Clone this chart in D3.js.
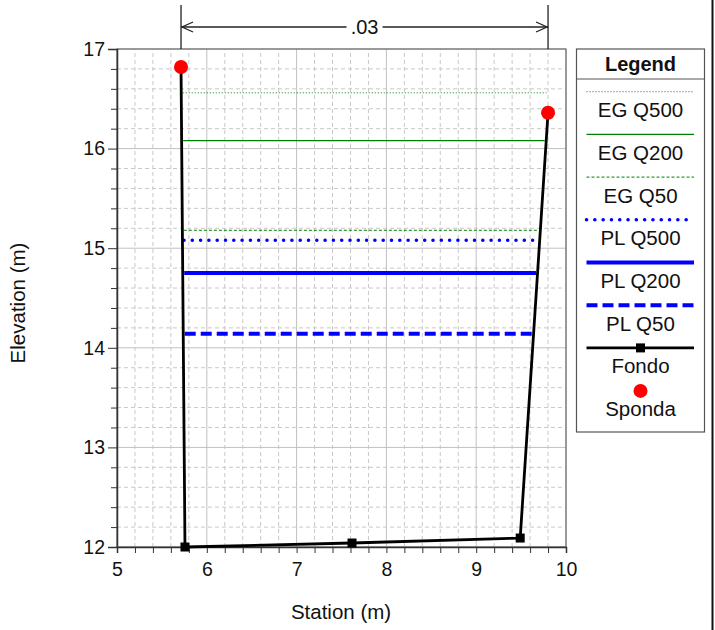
<!DOCTYPE html>
<html>
<head>
<meta charset="utf-8">
<script src="https://cdn.jsdelivr.net/npm/d3@7"></script>
<style>
  html, body { margin: 0; padding: 0; background: #fff; }
  svg { display: block; font-family: "Liberation Sans", Arial, sans-serif; }
</style>
</head>
<body>
<svg id="chart" width="715" height="630"></svg>
<script>
// ---------------- data ----------------
const fondoStation = [5.713, 5.757, 7.617, 9.49, 9.80];
const fondoElev    = [16.82, 12.00, 12.04, 12.09, 16.36];
const spondaStation = [5.713, 9.80];
const spondaElev    = [16.82, 16.36];
const wsNames = ["EG Q500", "EG Q200", "EG Q50", "PL Q500", "PL Q200", "PL Q50"];
const wsElev  = [16.56, 16.08, 15.18, 15.08, 14.75, 14.14];
const xTicks = [5, 6, 7, 8, 9, 10];
const yTicks = [12, 13, 14, 15, 16, 17];
const nValue = ".03";

// ---------------- styles ----------------
const wsStyle = {
  "EG Q500": {color: "#008000", width: 1,   dash: "1,2",   cap: "butt"},
  "EG Q200": {color: "#008000", width: 1.3, dash: null,    cap: "butt"},
  "EG Q50":  {color: "#008000", width: 1,   dash: "3,2",   cap: "butt"},
  "PL Q500": {color: "#0000ff", width: 3.5, dash: "0.1,8.2", cap: "round"},
  "PL Q200": {color: "#0000ff", width: 4,   dash: null,    cap: "butt"},
  "PL Q50":  {color: "#0000ff", width: 4,   dash: "11,5",  cap: "butt"}
};

const svg = d3.select("#chart");
const x = d3.scaleLinear().domain([5, 10]).range([117, 566]);
const y = d3.scaleLinear().domain([12, 17]).range([547, 49]);

// ---------------- grid ----------------
const grid = svg.append("g");
const minorX = d3.range(5, 10.001, 0.2).filter(v => Math.abs(v - Math.round(v)) > 1e-6);
const minorY = d3.range(12, 17.001, 0.2).filter(v => Math.abs(v - Math.round(v)) > 1e-6);
grid.selectAll(".mx").data(minorX).join("line")
  .attr("x1", d => x(d)).attr("x2", d => x(d)).attr("y1", y(12)).attr("y2", y(17))
  .attr("stroke", "#c8c8c8").attr("stroke-dasharray", "4,3").attr("stroke-width", 1);
grid.selectAll(".my").data(minorY).join("line")
  .attr("y1", d => y(d)).attr("y2", d => y(d)).attr("x1", x(5)).attr("x2", x(10))
  .attr("stroke", "#c8c8c8").attr("stroke-dasharray", "4,3").attr("stroke-width", 1);
grid.selectAll(".Mx").data(xTicks).join("line")
  .attr("x1", d => x(d)).attr("x2", d => x(d)).attr("y1", y(12)).attr("y2", y(17))
  .attr("stroke", "#c0c0c0").attr("stroke-width", 1);
grid.selectAll(".My").data(yTicks).join("line")
  .attr("y1", d => y(d)).attr("y2", d => y(d)).attr("x1", x(5)).attr("x2", x(10))
  .attr("stroke", "#c0c0c0").attr("stroke-width", 1);

// frame
svg.append("rect").attr("x", x(5)).attr("y", y(17))
  .attr("width", x(10) - x(5)).attr("height", y(12) - y(17))
  .attr("fill", "none").attr("stroke", "#555").attr("stroke-width", 1);

// ---------------- axes ----------------
const fontSize = 19.5;
const xAxisMinor = d3.axisBottom(x).tickValues(minorX).tickSize(6).tickFormat("");
svg.append("g").attr("transform", `translate(0,${y(12)})`).call(xAxisMinor)
  .call(g => g.select(".domain").remove())
  .call(g => g.selectAll("line").attr("stroke", "#333"));
const xAxis = d3.axisBottom(x).tickValues(xTicks).tickSize(6).tickPadding(9).tickFormat(d3.format("d"));
svg.append("g").attr("transform", `translate(0,${y(12)})`).call(xAxis)
  .call(g => g.select(".domain").attr("stroke", "#333").attr("stroke-width", 1.5))
  .call(g => g.selectAll("line").attr("stroke", "#333"))
  .call(g => g.selectAll("text").attr("font-size", fontSize).attr("font-family", "Liberation Sans, Arial").attr("fill", "#111"));

const yAxisMinor = d3.axisLeft(y).tickValues(minorY).tickSize(6).tickFormat("");
svg.append("g").attr("transform", `translate(${x(5)},0)`).call(yAxisMinor)
  .call(g => g.select(".domain").remove())
  .call(g => g.selectAll("line").attr("stroke", "#333"));
const yAxis = d3.axisLeft(y).tickValues(yTicks).tickSize(9).tickPadding(3).tickFormat(d3.format("d"));
svg.append("g").attr("transform", `translate(${x(5)},0)`).call(yAxis)
  .call(g => g.select(".domain").attr("stroke", "#333").attr("stroke-width", 1.5))
  .call(g => g.selectAll("line").attr("stroke", "#333"))
  .call(g => g.selectAll("text").attr("font-size", fontSize).attr("font-family", "Liberation Sans, Arial").attr("fill", "#111"));

// axis titles
svg.append("text").attr("x", 341).attr("y", 619).attr("text-anchor", "middle")
  .attr("font-size", 20.5).attr("fill", "#111").text("Station (m)");
svg.append("text").attr("transform", "translate(25,303) rotate(-90)").attr("text-anchor", "middle")
  .attr("font-size", 20.5).attr("fill", "#111").text("Elevation (m)");

// ---------------- water surface lines ----------------
function bankX(pts, elev) {
  // interpolate station along a bank segment for a given elevation, clamped to bank top
  const [a, b] = pts;
  const lo = Math.min(a[1], b[1]), hi = Math.max(a[1], b[1]);
  const e = Math.max(lo, Math.min(hi, elev));
  const t = (e - a[1]) / (b[1] - a[1]);
  return a[0] + t * (b[0] - a[0]);
}
const leftBank = [[fondoStation[0], fondoElev[0]], [fondoStation[1], fondoElev[1]]];
const rightBank = [[fondoStation[3], fondoElev[3]], [fondoStation[4], fondoElev[4]]];
const wsData = wsNames.map((n, i) => ({name: n, elev: wsElev[i]}));
const wsG = svg.append("g");
wsG.selectAll("line").data(wsData).join("line")
  .attr("x1", d => x(bankX(leftBank, d.elev)) + 1.5)
  .attr("x2", d => x(bankX(rightBank, d.elev)) - 1.5)
  .attr("y1", d => y(d.elev)).attr("y2", d => y(d.elev))
  .attr("stroke", d => wsStyle[d.name].color)
  .attr("stroke-width", d => wsStyle[d.name].width)
  .attr("stroke-dasharray", d => wsStyle[d.name].dash)
  .attr("stroke-linecap", d => wsStyle[d.name].cap);

// ---------------- fondo ----------------
const fondo = fondoStation.map((s, i) => [s, fondoElev[i]]);
svg.append("path").datum(fondo)
  .attr("d", d3.line().x(d => x(d[0])).y(d => y(d[1])))
  .attr("fill", "none").attr("stroke", "#000").attr("stroke-width", 2.8);
svg.selectAll(".fm").data(fondo).join("rect")
  .attr("x", d => x(d[0]) - 4.5).attr("y", d => y(d[1]) - 4.5)
  .attr("width", 9).attr("height", 9).attr("fill", "#000");

// ---------------- sponda ----------------
const sponda = spondaStation.map((s, i) => [s, spondaElev[i]]);
svg.selectAll(".sp").data(sponda).join("circle")
  .attr("cx", d => x(d[0])).attr("cy", d => y(d[1])).attr("r", 7).attr("fill", "#ff0000");

// ---------------- n-value annotation ----------------
const ann = svg.append("g").attr("stroke", "#222").attr("stroke-width", 1.3).attr("fill", "none");
const ax1 = x(spondaStation[0]), ax2 = x(spondaStation[1]);
const ay = 27;
ann.append("line").attr("x1", ax1).attr("x2", ax1).attr("y1", 5).attr("y2", y(17));
ann.append("line").attr("x1", ax2).attr("x2", ax2).attr("y1", 5).attr("y2", y(17));
const mid = (ax1 + ax2) / 2;
ann.append("line").attr("x1", ax1).attr("x2", mid - 18).attr("y1", ay).attr("y2", ay);
ann.append("line").attr("x1", mid + 18).attr("x2", ax2).attr("y1", ay).attr("y2", ay);
ann.append("path").attr("d", `M${ax1 + 12},${ay - 5}L${ax1 + 1},${ay}L${ax1 + 12},${ay + 5}`);
ann.append("path").attr("d", `M${ax2 - 12},${ay - 5}L${ax2 - 1},${ay}L${ax2 - 12},${ay + 5}`);
svg.append("text").attr("x", mid).attr("y", ay + 7).attr("text-anchor", "middle")
  .attr("font-size", 20).attr("fill", "#111").text(nValue);

// ---------------- legend ----------------
const lg = svg.append("g");
const lx0 = 576.5, lx1 = 704.5, ly0 = 49, ly1 = 432;
lg.append("rect").attr("x", lx0).attr("y", ly0).attr("width", lx1 - lx0).attr("height", ly1 - ly0)
  .attr("fill", "#fff").attr("stroke", "#555").attr("stroke-width", 1.2);
lg.append("line").attr("x1", lx0).attr("x2", lx1).attr("y1", 79).attr("y2", 79)
  .attr("stroke", "#555").attr("stroke-width", 1.2);
const lcx = (lx0 + lx1) / 2;
lg.append("text").attr("x", lcx).attr("y", 71).attr("text-anchor", "middle")
  .attr("font-size", 20).attr("font-weight", "bold").attr("fill", "#111").text("Legend");
const step = 42.7;
wsNames.forEach((n, i) => {
  const ly = 91.7 + i * step;
  const s = wsStyle[n];
  lg.append("line").attr("x1", 586.5).attr("x2", 694).attr("y1", ly).attr("y2", ly)
    .attr("stroke", s.color).attr("stroke-width", s.width)
    .attr("stroke-dasharray", s.dash).attr("stroke-linecap", s.cap);
  lg.append("text").attr("x", lcx).attr("y", ly + 25.5).attr("text-anchor", "middle")
    .attr("font-size", 20.5).attr("fill", "#111").text(n);
});
const fy = 91.7 + 6 * step;
lg.append("line").attr("x1", 586.5).attr("x2", 694).attr("y1", fy).attr("y2", fy)
  .attr("stroke", "#000").attr("stroke-width", 2.8);
lg.append("rect").attr("x", lcx - 4.5).attr("y", fy - 4.5).attr("width", 9).attr("height", 9).attr("fill", "#000");
lg.append("text").attr("x", lcx).attr("y", fy + 25).attr("text-anchor", "middle")
  .attr("font-size", 20.5).attr("fill", "#111").text("Fondo");
const sy = fy + 43;
lg.append("circle").attr("cx", lcx).attr("cy", sy).attr("r", 7).attr("fill", "#ff0000");
lg.append("text").attr("x", lcx).attr("y", sy + 25).attr("text-anchor", "middle")
  .attr("font-size", 20.5).attr("fill", "#111").text("Sponda");

// right edge rule
svg.append("line").attr("x1", 712.5).attr("x2", 712.5).attr("y1", 0).attr("y2", 630)
  .attr("stroke", "#111").attr("stroke-width", 2);
</script>
</body>
</html>
